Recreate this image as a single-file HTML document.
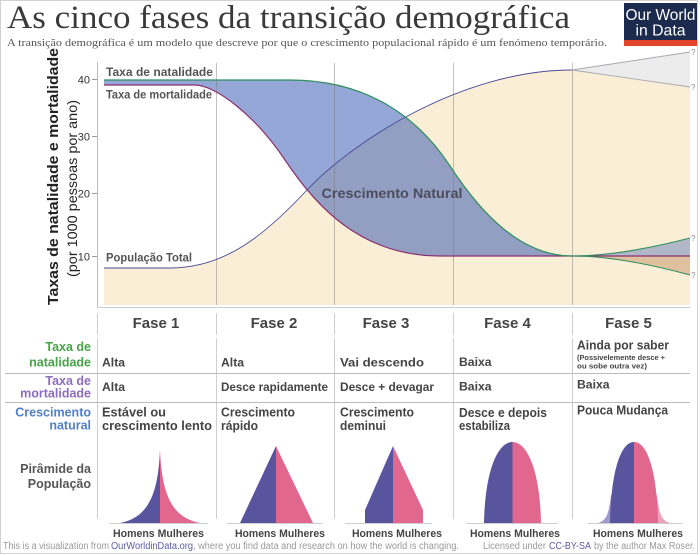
<!DOCTYPE html>
<html><head><meta charset="utf-8"><style>
html,body{margin:0;padding:0;background:#fff;}
svg{display:block;}
</style></head><body>
<svg width="700" height="555" viewBox="0 0 700 555" xmlns="http://www.w3.org/2000/svg" font-family="'Liberation Sans', Arial, sans-serif">
<rect x="0" y="0" width="700" height="555" fill="#fff"/>
<rect x="0.5" y="0.5" width="697" height="553" fill="none" stroke="#d2d2d2" stroke-width="1"/>

<!-- Title -->
<text x="7" y="28" font-family="'Liberation Serif', serif" font-size="33" fill="#3a3a3a" textLength="563" lengthAdjust="spacingAndGlyphs">As cinco fases da transição demográfica</text>
<text x="7" y="46" font-family="'Liberation Serif', serif" font-size="11" fill="#555" textLength="600" lengthAdjust="spacingAndGlyphs">A transição demográfica é um modelo que descreve por que o crescimento populacional rápido é um fenómeno temporário.</text>

<!-- Logo -->
<rect x="624" y="3" width="73" height="43" fill="#1c2a4e"/>
<rect x="624" y="40" width="73" height="6" fill="#e2452b"/>
<text x="660.5" y="20" text-anchor="middle" font-size="16" fill="#fff" textLength="70" lengthAdjust="spacingAndGlyphs">Our World</text>
<text x="660.5" y="35.5" text-anchor="middle" font-size="16" fill="#fff" textLength="50" lengthAdjust="spacingAndGlyphs">in Data</text>

<!-- Chart fills -->
<path d="M104,268 L170,268 C225,268 265,235 307,190 C350,144 460,70 572,70 L690,87 L690,305 L104,305 Z" fill="#fbeed6"/>
<path d="M572,70 L690,52 L690,87 Z" fill="#ececec"/>
<path d="M104,80 L290,80 C370,80 420,120 450,166 C480,212 520,256 572,256 L440,256 C360,256 315,205 285,160 C255,115 215,85 195,85 L104,85 Z" fill="rgba(60,95,180,0.55)"/>
<path d="M572,256 Q620,256 690,238 L690,256 Z" fill="rgba(60,95,180,0.38)"/>
<path d="M572,256 Q620,256 690,275 L690,256 Z" fill="#dfc09f"/>

<!-- gridlines -->
<g stroke="rgba(120,120,120,0.45)" stroke-width="1">
<line x1="216.5" y1="63" x2="216.5" y2="305"/>
<line x1="334.5" y1="63" x2="334.5" y2="305"/>
<line x1="453.5" y1="63" x2="453.5" y2="305"/>
<line x1="572.5" y1="63" x2="572.5" y2="305"/>
</g>
<line x1="97.5" y1="62" x2="97.5" y2="307.5" stroke="#bbb"/>
<line x1="97" y1="307.5" x2="690" y2="307.5" stroke="#ccc"/>
<g stroke="#999">
<line x1="92" y1="79.5" x2="97" y2="79.5"/>
<line x1="92" y1="136.5" x2="97" y2="136.5"/>
<line x1="92" y1="193.5" x2="97" y2="193.5"/>
<line x1="92" y1="256.5" x2="97" y2="256.5"/>
</g>
<g font-size="11" fill="#333" text-anchor="end">
<text x="90" y="83.5">40</text>
<text x="90" y="140.5">30</text>
<text x="90" y="197.5">20</text>
<text x="90" y="260.5">10</text>
</g>

<!-- lines -->
<path d="M104,268 L170,268 C225,268 265,235 307,190 C350,144 460,70 572,70" fill="none" stroke="#4b4b96" stroke-width="0.9"/>
<path d="M572,70 L690,52 M572,70 L690,87" fill="none" stroke="#a8a8b0" stroke-width="0.9"/>
<path d="M104,85 L195,85 C215,85 255,115 285,160 C315,205 360,256 440,256 L690,256" fill="none" stroke="#8b2f6f" stroke-width="1.2"/>
<path d="M104,80 L290,80 C370,80 420,120 450,166 C480,212 520,256 572,256" fill="none" stroke="#2f8f5f" stroke-width="1.2"/>
<path d="M572,256 Q620,256 690,238 M572,256 Q620,256 690,275" fill="none" stroke="#2f8f5f" stroke-width="1.1"/>

<g font-size="8" fill="#888">
<text x="691" y="55">?</text>
<text x="691" y="90">?</text>
<text x="691" y="241">?</text>
<text x="691" y="278">?</text>
</g>

<!-- chart labels -->
<g font-weight="bold" fill="#555" font-size="11.5">
<text x="106" y="76" textLength="107" lengthAdjust="spacingAndGlyphs">Taxa de natalidade</text>
<text x="106" y="98.5" textLength="106" lengthAdjust="spacingAndGlyphs">Taxa de mortalidade</text>
<text x="106" y="261.5" textLength="86" lengthAdjust="spacingAndGlyphs">População Total</text>
</g>
<text x="392" y="198" text-anchor="middle" font-weight="bold" font-size="13.5" fill="#4d4d5c" textLength="141" lengthAdjust="spacingAndGlyphs">Crescimento Natural</text>

<!-- y-axis title -->
<text transform="translate(58,176.5) rotate(-90)" text-anchor="middle" font-weight="bold" font-size="14.5" fill="#222" textLength="257" lengthAdjust="spacingAndGlyphs">Taxas de natalidade e mortalidade</text>
<text transform="translate(77,188.5) rotate(-90)" text-anchor="middle" font-size="14" fill="#222" textLength="177" lengthAdjust="spacingAndGlyphs">(por 1000 pessoas por ano)</text>

<!-- Table lines -->
<g stroke="#cfcfcf" stroke-width="1">
<line x1="97.5" y1="313" x2="97.5" y2="335"/>
<line x1="216.5" y1="313" x2="216.5" y2="335"/>
<line x1="334.5" y1="313" x2="334.5" y2="335"/>
<line x1="453.5" y1="313" x2="453.5" y2="335"/>
<line x1="572.5" y1="313" x2="572.5" y2="335"/>
<line x1="97.5" y1="338" x2="97.5" y2="519"/>
<line x1="216.5" y1="338" x2="216.5" y2="519"/>
<line x1="334.5" y1="338" x2="334.5" y2="519"/>
<line x1="453.5" y1="338" x2="453.5" y2="519"/>
<line x1="572.5" y1="338" x2="572.5" y2="519"/>
</g>
<g stroke="#bcbcbc" stroke-width="1">
<line x1="5" y1="373.5" x2="690" y2="373.5"/>
<line x1="5" y1="402.5" x2="690" y2="402.5"/>
</g>

<!-- headers -->
<g font-weight="bold" font-size="15" fill="#444" text-anchor="middle">
<text x="156" y="328">Fase 1</text>
<text x="274" y="328">Fase 2</text>
<text x="386" y="328">Fase 3</text>
<text x="507.5" y="328">Fase 4</text>
<text x="628.5" y="328">Fase 5</text>
</g>

<!-- row labels -->
<g font-weight="bold" font-size="12.5" text-anchor="end">
<text x="91" y="351" fill="#46a546">Taxa de</text>
<text x="91" y="366.5" fill="#46a546">natalidade</text>
<text x="91" y="385" fill="#8c6cc0">Taxa de</text>
<text x="91" y="397.5" fill="#8c6cc0">mortalidade</text>
<text x="91" y="416.5" fill="#4f7fc8">Crescimento</text>
<text x="91" y="429.5" fill="#4f7fc8">natural</text>
<text x="91" y="473" fill="#555">Pirâmide da</text>
<text x="91" y="488" fill="#555">População</text>
</g>

<!-- cells -->
<g font-weight="bold" font-size="12.2" fill="#444">
<text x="102" y="366.5">Alta</text>
<text x="221" y="366.5">Alta</text>
<text x="340" y="366.5" textLength="84" lengthAdjust="spacingAndGlyphs">Vai descendo</text>
<text x="459" y="366" >Baixa</text>
<text x="577" y="349.5" font-size="12.5" textLength="92" lengthAdjust="spacingAndGlyphs">Ainda por saber</text>
<text x="577" y="360" font-size="7.6" textLength="88" lengthAdjust="spacingAndGlyphs">(Possivelemente desce +</text>
<text x="577" y="368.5" font-size="7.6" textLength="70" lengthAdjust="spacingAndGlyphs">ou sobe outra vez)</text>

<text x="102" y="391">Alta</text>
<text x="221" y="391" textLength="107" lengthAdjust="spacingAndGlyphs">Desce rapidamente</text>
<text x="340" y="391" textLength="94" lengthAdjust="spacingAndGlyphs">Desce + devagar</text>
<text x="459" y="390.5">Baixa</text>
<text x="577" y="388.5">Baixa</text>

<text x="102" y="416.5" font-size="12.8" textLength="64" lengthAdjust="spacingAndGlyphs">Estável ou</text>
<text x="102" y="430" font-size="12.8" textLength="110" lengthAdjust="spacingAndGlyphs">crescimento lento</text>
<text x="221" y="416.5" font-size="12.8" textLength="74" lengthAdjust="spacingAndGlyphs">Crescimento</text>
<text x="221" y="430" font-size="12.8" textLength="37" lengthAdjust="spacingAndGlyphs">rápido</text>
<text x="340" y="416.5" font-size="12.8" textLength="74" lengthAdjust="spacingAndGlyphs">Crescimento</text>
<text x="340" y="430" font-size="12.8" textLength="46" lengthAdjust="spacingAndGlyphs">deminui</text>
<text x="459" y="417" font-size="12.8" textLength="88" lengthAdjust="spacingAndGlyphs">Desce e depois</text>
<text x="459" y="430" font-size="12.8" textLength="51" lengthAdjust="spacingAndGlyphs">estabiliza</text>
<text x="577" y="414.5" font-size="12.8" textLength="91" lengthAdjust="spacingAndGlyphs">Pouca Mudança</text>
</g>

<!-- pyramid baselines -->
<g stroke="#cfcfcf" stroke-width="1">
<line x1="110" y1="523.5" x2="208" y2="523.5"/>
<line x1="227" y1="523.5" x2="323" y2="523.5"/>
<line x1="345" y1="523.5" x2="432" y2="523.5"/>
<line x1="466" y1="523.5" x2="558" y2="523.5"/>
<line x1="588" y1="523.5" x2="683" y2="523.5"/>
</g>

<!-- pyramids -->
<path d="M160,450 C158,500 145,518 120,523 L160,523 Z" fill="#58559e"/>
<path d="M160,450 C162,500 175,518 200,523 L160,523 Z" fill="#e2678e"/>

<path d="M276,446 L240,523 L276,523 Z" fill="#58559e"/>
<path d="M276,446 L313,523 L276,523 Z" fill="#e2678e"/>

<path d="M393,446 L365,510 L365,523 L393,523 Z" fill="#58559e"/>
<path d="M393,446 L423,510 L423,523 L393,523 Z" fill="#e2678e"/>

<path d="M512.5,442 C498,442 485,470 484,523 L512.5,523 Z" fill="#58559e"/>
<path d="M512.5,442 C527,442 540,470 541,523 L512.5,523 Z" fill="#e2678e"/>

<path d="M598,523 C607,521 609,512 611,495 L634,495 L634,523 Z" fill="#9d97cc"/>
<path d="M670,523 C661,521 659,512 657,495 L634,495 L634,523 Z" fill="#eea0b9"/>
<path d="M634,442 C621,442 611,470 610,523 L634,523 Z" fill="#58559e"/>
<path d="M634,442 C647,442 657,470 658,523 L634,523 Z" fill="#e2678e"/>

<g font-weight="bold" font-size="10.6" fill="#444" text-anchor="middle">
<text x="158.5" y="537" textLength="91" lengthAdjust="spacingAndGlyphs">Homens Mulheres</text>
<text x="280" y="537" textLength="90" lengthAdjust="spacingAndGlyphs">Homens Mulheres</text>
<text x="397" y="537" textLength="90" lengthAdjust="spacingAndGlyphs">Homens Mulheres</text>
<text x="515" y="537" textLength="90" lengthAdjust="spacingAndGlyphs">Homens Mulheres</text>
<text x="638" y="537" textLength="90" lengthAdjust="spacingAndGlyphs">Homens Mulheres</text>
</g>

<!-- footer -->
<g font-size="10">
<text x="3" y="549" fill="#999" textLength="106" lengthAdjust="spacingAndGlyphs">This is a visualization from</text>
<text x="111" y="549" fill="#5b5ba8" textLength="82" lengthAdjust="spacingAndGlyphs">OurWorldinData.org</text>
<text x="193" y="549" fill="#999" textLength="266" lengthAdjust="spacingAndGlyphs">, where you find data and research on how the world is changing.</text>
<text x="483" y="549" fill="#999" textLength="63" lengthAdjust="spacingAndGlyphs">Licensed under</text>
<text x="549" y="549" fill="#5b5ba8" textLength="42" lengthAdjust="spacingAndGlyphs">CC-BY-SA</text>
<text x="594" y="549" fill="#999" textLength="101" lengthAdjust="spacingAndGlyphs">by the author Max Roser.</text>
</g>
</svg>
</body></html>
